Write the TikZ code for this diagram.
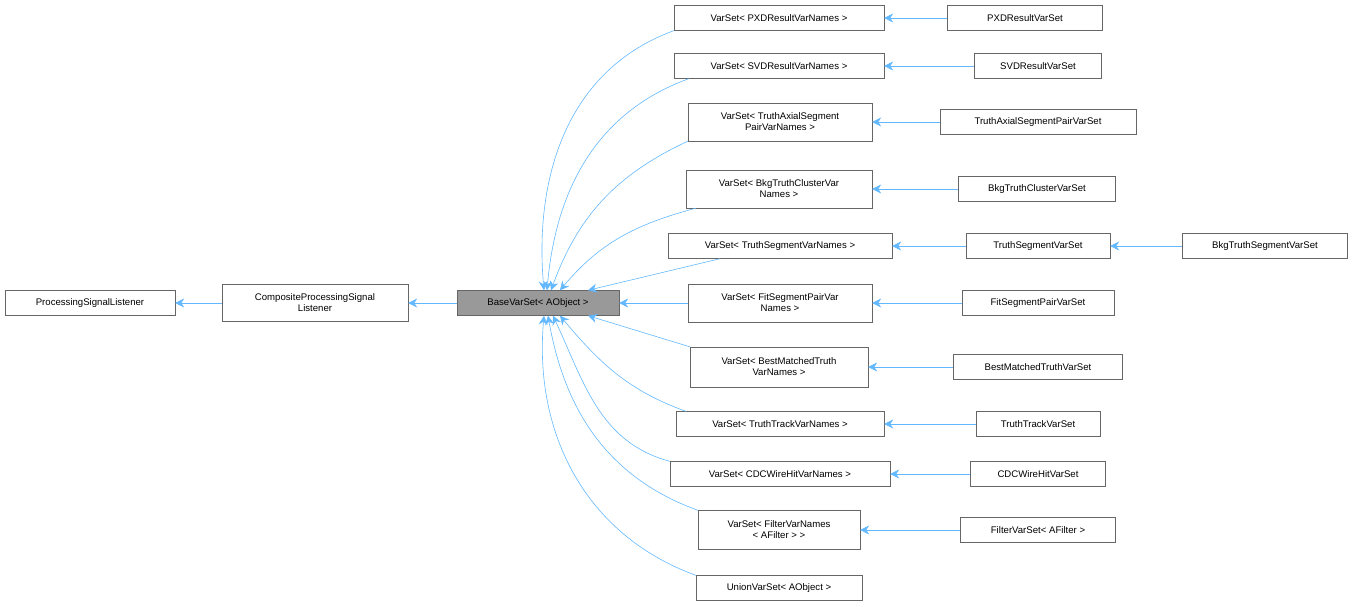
\documentclass[tikz,border=0pt]{standalone}
\usepackage{fontspec}
\setmainfont{Liberation Sans}
\usetikzlibrary{arrows.meta}
\definecolor{edgeblue}{HTML}{63B8FF}
\definecolor{boxgray}{HTML}{666666}
\tikzset{cls/.style={rectangle, draw=boxgray, fill=white, align=center, font=\fontsize{9.6}{11}\selectfont, inner sep=0pt, minimum height=25pt},
  base/.style={cls, fill=black!40},
  inh/.style={{Stealth[length=9pt,width=9pt,fill=edgeblue]}-, draw=edgeblue, semithick}}

\begin{document}
\begin{tikzpicture}[x=1pt, y=-1pt]
\useasboundingbox (0,0) rectangle (1353,607);

\node(psl) at (90,303) [cls, minimum width=170pt] {ProcessingSignalListener};
\node(cpsl) at (315,303) [cls, minimum width=186pt, minimum height=37pt] {CompositeProcessingSignal\\Listener};
\node(bvs) at (538,303) [base, minimum width=162pt] {BaseVarSet< AObject >};

\node(pxd) at (779,18) [cls, minimum width=210pt] {VarSet< PXDResultVarNames >};
\node(svd) at (779,66) [cls, minimum width=210pt] {VarSet< SVDResultVarNames >};
\node(tasp) at (780,122) [cls, minimum width=184pt, minimum height=38pt] {VarSet< TruthAxialSegment\\PairVarNames >};
\node(btc) at (779,189) [cls, minimum width=186pt, minimum height=38pt] {VarSet< BkgTruthClusterVar\\Names >};
\node(tseg) at (780,246) [cls, minimum width=224pt] {VarSet< TruthSegmentVarNames >};
\node(fsp) at (780,303) [cls, minimum width=184pt, minimum height=38pt] {VarSet< FitSegmentPairVar\\Names >};
\node(bmt) at (779,367) [cls, minimum width=178pt, minimum height=40pt] {VarSet< BestMatchedTruth\\VarNames >};
\node(ttr) at (780,424) [cls, minimum width=208pt] {VarSet< TruthTrackVarNames >};
\node(cdc) at (780,474) [cls, minimum width=220pt] {VarSet< CDCWireHitVarNames >};
\node(flt) at (779,530) [cls, minimum width=162pt, minimum height=39pt] {VarSet< FilterVarNames\\< AFilter > >};
\node(uni) at (779,588) [cls, minimum width=166pt] {UnionVarSet< AObject >};

\node(pxdset) at (1025,18) [cls, minimum width=155pt] {PXDResultVarSet};
\node(svdset) at (1038,66) [cls, minimum width=127pt] {SVDResultVarSet};
\node(taspset) at (1038,122) [cls, minimum width=196pt] {TruthAxialSegmentPairVarSet};
\node(btcset) at (1037,189) [cls, minimum width=157pt] {BkgTruthClusterVarSet};
\node(tsegset) at (1038,246) [cls, minimum width=144pt] {TruthSegmentVarSet};
\node(fspset) at (1038,303) [cls, minimum width=152pt] {FitSegmentPairVarSet};
\node(bmtset) at (1038,367) [cls, minimum width=169pt] {BestMatchedTruthVarSet};
\node(ttrset) at (1038,424) [cls, minimum width=124pt] {TruthTrackVarSet};
\node(cdcset) at (1038,474) [cls, minimum width=135pt] {CDCWireHitVarSet};
\node(fltset) at (1038,530) [cls, minimum width=155pt] {FilterVarSet< AFilter >};
\node(bkgseg) at (1265,246) [cls, minimum width=165pt] {BkgTruthSegmentVarSet};

\draw[inh] (psl) -- (cpsl);
\draw[inh] (cpsl) -- (bvs);

\draw[inh] ([xshift=6pt]bvs.north) to[out=95, in=200] (pxd.south west);
\draw[inh] ([xshift=9pt]bvs.north) to[out=85, in=200] ([xshift=15pt]svd.south west);
\draw[inh] ([xshift=13pt]bvs.north) to[out=70, in=205] (tasp.south west);
\draw[inh] ([xshift=22pt]bvs.north) to[out=50, in=195] ([xshift=10pt]btc.south west);
\draw[inh] ([xshift=50pt]bvs.north) -- ([xshift=-60pt]tseg.south);
\draw[inh] (bvs.east) -- (fsp.west);
\draw[inh] ([xshift=50pt]bvs.south) -- (bmt.north west);
\draw[inh] ([xshift=22pt]bvs.south) to[out=-50, in=160] ([xshift=10pt]ttr.north west);
\draw[inh] ([xshift=15pt]bvs.south) to[out=-65, in=165] (cdc.north west);
\draw[inh] ([xshift=10pt]bvs.south) to[out=-80, in=160] (flt.north west);
\draw[inh] ([xshift=6pt]bvs.south) to[out=-95, in=160] (uni.north west);

\draw[inh] (pxd) -- (pxdset);
\draw[inh] (svd) -- (svdset);
\draw[inh] (tasp) -- (taspset);
\draw[inh] (btc) -- (btcset);
\draw[inh] (tseg) -- (tsegset);
\draw[inh] (tsegset) -- (bkgseg);
\draw[inh] (fsp) -- (fspset);
\draw[inh] (bmt) -- (bmtset);
\draw[inh] (ttr) -- (ttrset);
\draw[inh] (cdc) -- (cdcset);
\draw[inh] (flt) -- (fltset);

\end{tikzpicture}
\end{document}
